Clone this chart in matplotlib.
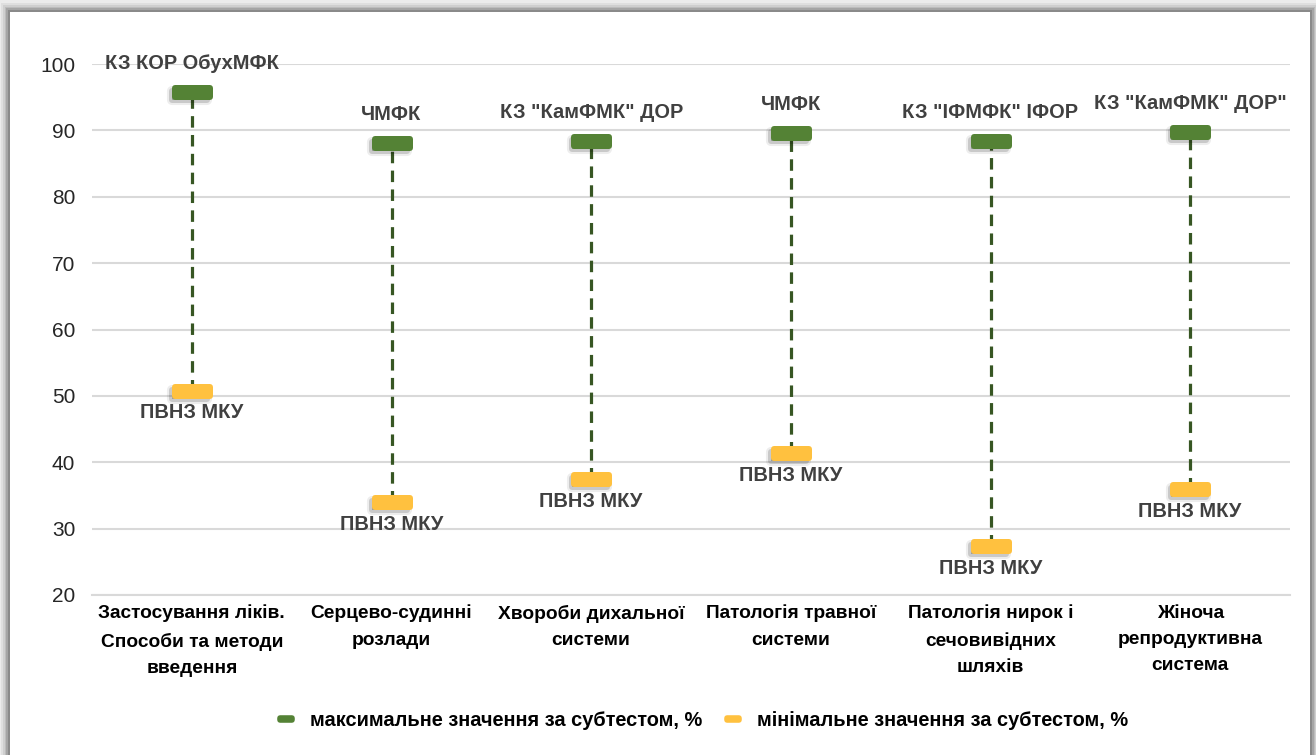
import matplotlib
matplotlib.use("Agg")
import matplotlib.pyplot as plt
import matplotlib.transforms as mtransforms
from matplotlib.path import Path
from matplotlib.markers import MarkerStyle
from matplotlib.patches import Rectangle
from matplotlib.lines import Line2D

plt.rcParams['font.family'] = ['Liberation Sans', 'DejaVu Sans']

categories = [
    "Застосування ліків.\nСпособи та методи\nвведення",
    "Серцево-судинні\nрозлади",
    "Хвороби дихальної\nсистеми",
    "Патологія травної\nсистеми",
    "Патологія нирок і\nсечовивідних\nшляхів",
    "Жіноча\nрепродуктивна\nсистема",
]
max_values = [95.8, 88.1, 88.4, 89.6, 88.4, 89.8]
min_values = [50.8, 34.0, 37.5, 41.4, 27.4, 36.0]
max_labels = ["КЗ КОР ОбухМФК", "ЧМФК", "КЗ \"КамФМК\" ДОР", "ЧМФК",
              "КЗ \"ІФМФК\" ІФОР", "КЗ \"КамФМК\" ДОР\""]
min_labels = ["ПВНЗ МКУ"] * 6
series_names = ["максимальне значення за субтестом, %",
                "мінімальне значення за субтестом, %"]
yticks = [20, 30, 40, 50, 60, 70, 80, 90, 100]

GREEN = "#548235"
YELLOW = "#FFC13F"
DASH = "#375623"

W, H = 1316, 755
fig = plt.figure(figsize=(W / 100, H / 100), dpi=100)
fig.patch.set_facecolor("#ececec")

# card shadow + white card
for i, a in enumerate([0.05, 0.07, 0.09, 0.12, 0.16]):
    d = 9 - i * 1.8
    fig.patches.append(Rectangle(((10 - d) / W, 0), (1300 + 2 * d) / W, (H - 12 + d) / H,
                                 transform=fig.transFigure, facecolor="black",
                                 alpha=a, edgecolor="none", zorder=0))
fig.patches.append(Rectangle((10 / W, 0), 1300 / W, (H - 12) / H,
                             transform=fig.transFigure, facecolor="white",
                             edgecolor="none", zorder=1))

ax_left, ax_right, ax_top, ax_bottom = 92, 1290, 64, 595
ax = fig.add_axes([ax_left / W, (H - ax_bottom) / H,
                   (ax_right - ax_left) / W, (ax_bottom - ax_top) / H])
ax.set_facecolor("none")
ax.set_zorder(2)

x = list(range(len(categories)))
ax.set_xlim(-0.5, len(categories) - 0.5)
ax.set_ylim(20, 100)
ax.set_yticks(yticks)
ax.set_yticklabels([str(v) for v in yticks], fontsize=15, color="#262626")
ax.set_xticks(x)
ax.set_xticklabels(categories, fontsize=13.8, fontweight="bold", color="black",
                   linespacing=1.72)
ax.tick_params(axis="both", length=0)
ax.tick_params(axis="y", pad=12)
ax.tick_params(axis="x", pad=7)
ax.grid(axis="y", color="#d9d9d9", linewidth=1.5)
ax.set_axisbelow(True)
for s in ["top", "right", "left"]:
    ax.spines[s].set_visible(False)
ax.spines["bottom"].set_color("#d9d9d9")
ax.spines["bottom"].set_linewidth(1.5)

# dashed range lines
ax.vlines(x, min_values, max_values, colors=DASH, linewidth=2.3,
          linestyles=(0, (3.6, 2.3)), zorder=3)

# rounded rectangle marker
h = 9 / 35 / 2
rect = Path([(-0.5, -h), (0.5, -h), (0.5, h), (-0.5, h), (-0.5, -h)],
            [Path.MOVETO, Path.LINETO, Path.LINETO, Path.LINETO, Path.CLOSEPOLY])
mk = MarkerStyle(rect, joinstyle="round")
ms, mew = 35 * 0.72, 6 * 0.72

shadow_tr = mtransforms.offset_copy(ax.transData, fig=fig, x=-2.5, y=-3, units="dots")
for vals in (max_values, min_values):
    ax.plot(x, vals, linestyle="none", marker=mk, markersize=ms, markeredgewidth=mew + 3,
            color="#000000", alpha=0.07, transform=shadow_tr, zorder=3.5)
    ax.plot(x, vals, linestyle="none", marker=mk, markersize=ms, markeredgewidth=mew,
            color="#000000", alpha=0.15, transform=shadow_tr, zorder=3.6)

ax.plot(x, max_values, linestyle="none", marker=mk, markersize=ms, markeredgewidth=mew,
        color=GREEN, zorder=4)
ax.plot(x, min_values, linestyle="none", marker=mk, markersize=ms, markeredgewidth=mew,
        color=YELLOW, zorder=4)

for xi, v, lab in zip(x, max_values, max_labels):
    ax.annotate(lab, (xi, v), xytext=(0, 20.5), textcoords="offset points",
                ha="center", va="center", fontsize=14.4, fontweight="bold",
                color="#404040", zorder=5)
for xi, v, lab in zip(x, min_values, min_labels):
    ax.annotate(lab, (xi, v), xytext=(0, -16), textcoords="offset points",
                ha="center", va="center", fontsize=14.4, fontweight="bold",
                color="#404040", zorder=5)

# legend
hl = Path([(-0.5, -0.12), (0.5, -0.12), (0.5, 0.12), (-0.5, 0.12), (-0.5, -0.12)],
          [Path.MOVETO, Path.LINETO, Path.LINETO, Path.LINETO, Path.CLOSEPOLY])
lmk = MarkerStyle(hl, joinstyle="round")
handles = [Line2D([], [], linestyle="none", marker=lmk, markersize=8, markeredgewidth=4,
                  color=c) for c in (GREEN, YELLOW)]
fig.legend(handles, series_names, loc="center", bbox_to_anchor=(702 / W, 1 - 720 / H),
           ncol=2, frameon=False, prop={"weight": "bold", "size": 14.4},
           handlelength=1.0, handletextpad=0.7, columnspacing=1.0)

fig.savefig("out.png", dpi=100, facecolor=fig.get_facecolor())
